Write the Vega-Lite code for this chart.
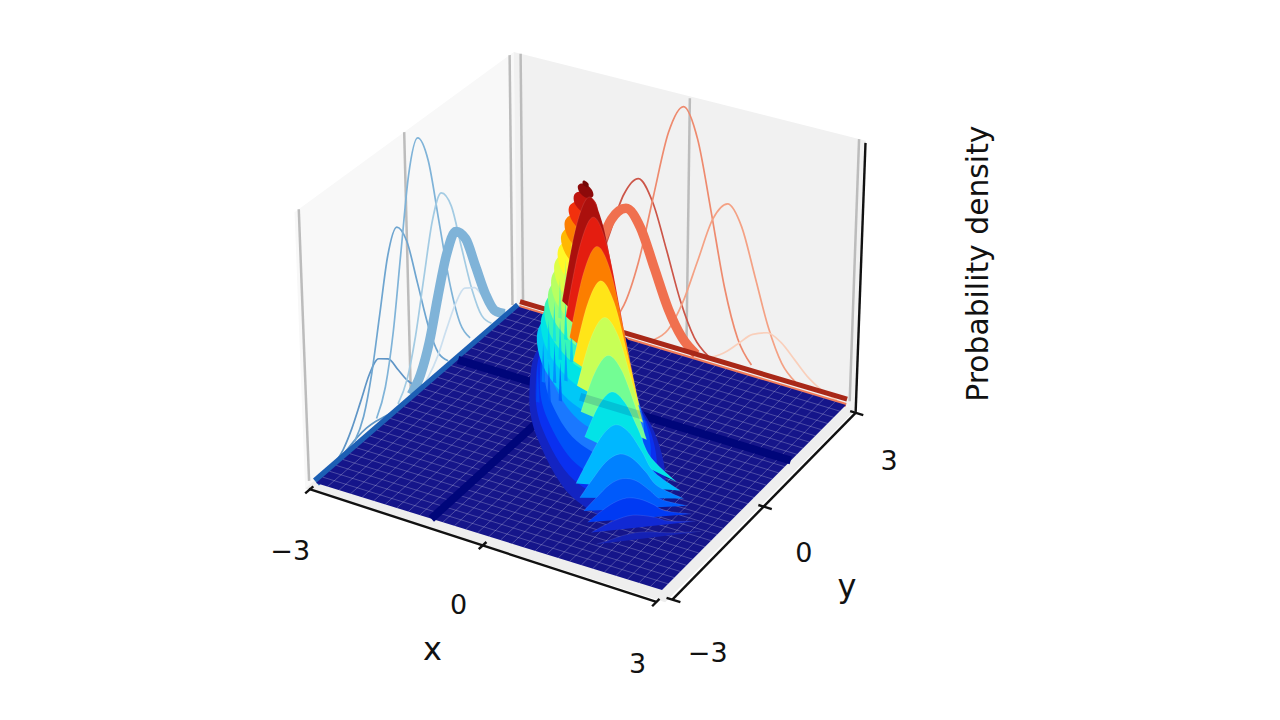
{"$schema":"https://vega.github.io/schema/vega-lite/v6.json","width":1280,"height":720,"autosize":{"type":"fit","contains":"padding"},"padding":0,"background":"white","view":{"stroke":null},"config":{"font":"DejaVu Sans"},
"data":{"values":[
{"k":"w1","i":0,"x":-3.12,"y":-3.12,"z":-0.004},{"k":"w1","i":1,"x":-3.12,"y":-3.12,"z":0.272},{"k":"w1","i":2,"x":-3.12,"y":3.12,"z":0.272},{"k":"w1","i":3,"x":-3.12,"y":3.12,"z":-0.004},
{"k":"w2","i":0,"x":-3.12,"y":3.12,"z":-0.004},{"k":"w2","i":1,"x":-3.12,"y":3.12,"z":0.272},{"k":"w2","i":2,"x":3.12,"y":3.12,"z":0.268},{"k":"w2","i":3,"x":3.12,"y":3.12,"z":-0.006},
{"k":"p","i":0,"x":-3.12,"y":-3.12,"z":-0.004},{"k":"p","i":1,"x":3.12,"y":-3.12,"z":-0.006},{"k":"p","i":2,"x":3.12,"y":3.12,"z":-0.006},{"k":"p","i":3,"x":-3.12,"y":3.12,"z":-0.004},
{"k":"gl","s":1,"x":-3.12,"y":-3,"z":0},{"k":"gl","s":1,"x":-3.12,"y":-3,"z":0.272},{"k":"gl","s":2,"x":-3.12,"y":0,"z":0},{"k":"gl","s":2,"x":-3.12,"y":0,"z":0.272},{"k":"gl","s":3,"x":-3.12,"y":3,"z":0},{"k":"gl","s":3,"x":-3.12,"y":3,"z":0.272},{"k":"gl","s":4,"x":-3,"y":3.12,"z":0},{"k":"gl","s":4,"x":-3,"y":3.12,"z":0.272},{"k":"gl","s":5,"x":0,"y":3.12,"z":0},{"k":"gl","s":5,"x":0,"y":3.12,"z":0.268},{"k":"gl","s":6,"x":3,"y":3.12,"z":0},{"k":"gl","s":6,"x":3,"y":3.12,"z":0.268},
{"k":"ax","s":1,"x":-3.02,"y":-3.18,"z":-0.001},{"k":"ax","s":1,"x":3,"y":-3.18,"z":-0.006},{"k":"ax","s":2,"x":3.18,"y":-3,"z":-0.006},{"k":"ax","s":2,"x":3.18,"y":3,"z":-0.005},{"k":"ax","s":3,"x":3.18,"y":3,"z":-0.004},{"k":"ax","s":3,"x":3.18,"y":3,"z":0.27},
{"k":"ax","s":4,"x":-3,"y":-3.08,"z":-0.001},{"k":"ax","s":4,"x":-3,"y":-3.32,"z":-0.001},{"k":"ax","s":5,"x":0,"y":-3.08,"z":-0.003},{"k":"ax","s":5,"x":0,"y":-3.32,"z":-0.003},{"k":"ax","s":6,"x":3,"y":-3.08,"z":-0.006},{"k":"ax","s":6,"x":3,"y":-3.32,"z":-0.006},{"k":"ax","s":7,"x":3.08,"y":-3,"z":-0.006},{"k":"ax","s":7,"x":3.32,"y":-3,"z":-0.006},{"k":"ax","s":8,"x":3.08,"y":0,"z":-0.006},{"k":"ax","s":8,"x":3.32,"y":0,"z":-0.006},{"k":"ax","s":9,"x":3.08,"y":3,"z":-0.005},{"k":"ax","s":9,"x":3.32,"y":3,"z":-0.005},
{"k":"l","s":"b1","x":-3,"y":-2.6,"z":0.0015},{"k":"l","s":"b1","x":-3,"y":-2.05,"z":0.0067},{"k":"l","s":"b1","x":-3,"y":-1.78,"z":0.0097},{"k":"l","s":"b1","x":-3,"y":-1.5,"z":0.011},{"k":"l","s":"b1","x":-3,"y":-1.22,"z":0.0097},{"k":"l","s":"b1","x":-3,"y":-0.95,"z":0.0067},{"k":"l","s":"b1","x":-3,"y":-0.4,"z":0.0015},
{"k":"l","s":"b2","x":-3,"y":-2.47,"z":0.003},{"k":"l","s":"b2","x":-3,"y":-2.19,"z":0.0095},{"k":"l","s":"b2","x":-3,"y":-1.92,"z":0.023},{"k":"l","s":"b2","x":-3,"y":-1.64,"z":0.0425},{"k":"l","s":"b2","x":-3,"y":-1.37,"z":0.062},{"k":"l","s":"b2","x":-3,"y":-1.09,"z":0.07},{"k":"l","s":"b2","x":-3,"y":-0.82,"z":0.062},{"k":"l","s":"b2","x":-3,"y":-0.54,"z":0.0425},{"k":"l","s":"b2","x":-3,"y":-0.27,"z":0.023},{"k":"l","s":"b2","x":-3,"y":0.01,"z":0.0095},{"k":"l","s":"b2","x":-3,"y":0.29,"z":0.003},
{"k":"l","s":"b3","x":-3,"y":-1.85,"z":0.008},{"k":"l","s":"b3","x":-3,"y":-1.57,"z":0.025},{"k":"l","s":"b3","x":-3,"y":-1.3,"z":0.061},{"k":"l","s":"b3","x":-3,"y":-1.02,"z":0.114},{"k":"l","s":"b3","x":-3,"y":-0.75,"z":0.166},{"k":"l","s":"b3","x":-3,"y":-0.47,"z":0.188},{"k":"l","s":"b3","x":-3,"y":-0.2,"z":0.166},{"k":"l","s":"b3","x":-3,"y":0.08,"z":0.114},{"k":"l","s":"b3","x":-3,"y":0.36,"z":0.061},{"k":"l","s":"b3","x":-3,"y":0.63,"z":0.025},{"k":"l","s":"b3","x":-3,"y":0.91,"z":0.008},
{"k":"l","s":"b4","x":-3,"y":-1.2,"z":0.012},{"k":"l","s":"b4","x":-3,"y":-0.92,"z":0.036},{"k":"l","s":"b4","x":-3,"y":-0.65,"z":0.085},{"k":"l","s":"b4","x":-3,"y":-0.37,"z":0.16},{"k":"l","s":"b4","x":-3,"y":-0.1,"z":0.232},{"k":"l","s":"b4","x":-3,"y":0.18,"z":0.263},{"k":"l","s":"b4","x":-3,"y":0.46,"z":0.232},{"k":"l","s":"b4","x":-3,"y":0.73,"z":0.16},{"k":"l","s":"b4","x":-3,"y":1.01,"z":0.085},{"k":"l","s":"b4","x":-3,"y":1.28,"z":0.036},{"k":"l","s":"b4","x":-3,"y":1.56,"z":0.012},
{"k":"l","s":"b5","x":-3,"y":-0.57,"z":0.008},{"k":"l","s":"b5","x":-3,"y":-0.29,"z":0.025},{"k":"l","s":"b5","x":-3,"y":-0.02,"z":0.061},{"k":"l","s":"b5","x":-3,"y":0.26,"z":0.114},{"k":"l","s":"b5","x":-3,"y":0.54,"z":0.166},{"k":"l","s":"b5","x":-3,"y":0.81,"z":0.188},{"k":"l","s":"b5","x":-3,"y":1.09,"z":0.166},{"k":"l","s":"b5","x":-3,"y":1.36,"z":0.114},{"k":"l","s":"b5","x":-3,"y":1.64,"z":0.061},{"k":"l","s":"b5","x":-3,"y":1.91,"z":0.025},{"k":"l","s":"b5","x":-3,"y":2.19,"z":0.008},
{"k":"l","s":"b7","x":-3,"y":0.06,"z":0.003},{"k":"l","s":"b7","x":-3,"y":0.33,"z":0.009},{"k":"l","s":"b7","x":-3,"y":0.61,"z":0.022},{"k":"l","s":"b7","x":-3,"y":0.88,"z":0.042},{"k":"l","s":"b7","x":-3,"y":1.16,"z":0.061},{"k":"l","s":"b7","x":-3,"y":1.43,"z":0.069},{"k":"l","s":"b7","x":-3,"y":1.71,"z":0.061},{"k":"l","s":"b7","x":-3,"y":1.98,"z":0.042},{"k":"l","s":"b7","x":-3,"y":2.26,"z":0.022},{"k":"l","s":"b7","x":-3,"y":2.53,"z":0.009},{"k":"l","s":"b7","x":-3,"y":2.81,"z":0.003},
{"k":"l","s":"r1","x":-2.13,"y":3,"z":0.008},{"k":"l","s":"r1","x":-1.87,"y":3,"z":0.023},{"k":"l","s":"r1","x":-1.61,"y":3,"z":0.057},{"k":"l","s":"r1","x":-1.35,"y":3,"z":0.106},{"k":"l","s":"r1","x":-1.09,"y":3,"z":0.153},{"k":"l","s":"r1","x":-0.83,"y":3,"z":0.174},{"k":"l","s":"r1","x":-0.57,"y":3,"z":0.153},{"k":"l","s":"r1","x":-0.31,"y":3,"z":0.106},{"k":"l","s":"r1","x":-0.05,"y":3,"z":0.057},{"k":"l","s":"r1","x":0.21,"y":3,"z":0.023},{"k":"l","s":"r1","x":0.47,"y":3,"z":0.008},
{"k":"l","s":"r3","x":-1.34,"y":3,"z":0.012},{"k":"l","s":"r3","x":-1.08,"y":3,"z":0.035},{"k":"l","s":"r3","x":-0.82,"y":3,"z":0.085},{"k":"l","s":"r3","x":-0.56,"y":3,"z":0.159},{"k":"l","s":"r3","x":-0.3,"y":3,"z":0.231},{"k":"l","s":"r3","x":-0.04,"y":3,"z":0.262},{"k":"l","s":"r3","x":0.22,"y":3,"z":0.231},{"k":"l","s":"r3","x":0.48,"y":3,"z":0.159},{"k":"l","s":"r3","x":0.74,"y":3,"z":0.085},{"k":"l","s":"r3","x":1,"y":3,"z":0.035},{"k":"l","s":"r3","x":1.26,"y":3,"z":0.012},
{"k":"l","s":"r4","x":-0.53,"y":3,"z":0.008},{"k":"l","s":"r4","x":-0.27,"y":3,"z":0.023},{"k":"l","s":"r4","x":-0.01,"y":3,"z":0.056},{"k":"l","s":"r4","x":0.25,"y":3,"z":0.104},{"k":"l","s":"r4","x":0.51,"y":3,"z":0.152},{"k":"l","s":"r4","x":0.77,"y":3,"z":0.172},{"k":"l","s":"r4","x":1.03,"y":3,"z":0.152},{"k":"l","s":"r4","x":1.29,"y":3,"z":0.104},{"k":"l","s":"r4","x":1.55,"y":3,"z":0.056},{"k":"l","s":"r4","x":1.81,"y":3,"z":0.023},{"k":"l","s":"r4","x":2.07,"y":3,"z":0.008},
{"k":"l","s":"r5","x":0.23,"y":3,"z":0.002},{"k":"l","s":"r5","x":0.49,"y":3,"z":0.007},{"k":"l","s":"r5","x":0.75,"y":3,"z":0.016},{"k":"l","s":"r5","x":1.01,"y":3,"z":0.03},{"k":"l","s":"r5","x":1.27,"y":3,"z":0.044},{"k":"l","s":"r5","x":1.53,"y":3,"z":0.05},{"k":"l","s":"r5","x":1.79,"y":3,"z":0.044},{"k":"l","s":"r5","x":2.05,"y":3,"z":0.03},{"k":"l","s":"r5","x":2.31,"y":3,"z":0.016},{"k":"l","s":"r5","x":2.57,"y":3,"z":0.007},{"k":"l","s":"r5","x":2.83,"y":3,"z":0.002},
{"k":"h","s":"b6","x":-3,"y":-0.18,"z":0.006},{"k":"h","s":"b6","x":-3,"y":0.1,"z":0.018},{"k":"h","s":"b6","x":-3,"y":0.38,"z":0.044},{"k":"h","s":"b6","x":-3,"y":0.65,"z":0.083},{"k":"h","s":"b6","x":-3,"y":0.93,"z":0.12},{"k":"h","s":"b6","x":-3,"y":1.2,"z":0.136},{"k":"h","s":"b6","x":-3,"y":1.48,"z":0.12},{"k":"h","s":"b6","x":-3,"y":1.75,"z":0.083},{"k":"h","s":"b6","x":-3,"y":2.03,"z":0.044},{"k":"h","s":"b6","x":-3,"y":2.3,"z":0.018},{"k":"h","s":"b6","x":-3,"y":2.58,"z":0.006},
{"k":"h","s":"r2","x":-2.35,"y":3,"z":0.006},{"k":"h","s":"r2","x":-2.09,"y":3,"z":0.019},{"k":"h","s":"r2","x":-1.83,"y":3,"z":0.045},{"k":"h","s":"r2","x":-1.57,"y":3,"z":0.084},{"k":"h","s":"r2","x":-1.31,"y":3,"z":0.123},{"k":"h","s":"r2","x":-1.05,"y":3,"z":0.139},{"k":"h","s":"r2","x":-0.79,"y":3,"z":0.123},{"k":"h","s":"r2","x":-0.53,"y":3,"z":0.084},{"k":"h","s":"r2","x":-0.27,"y":3,"z":0.045},{"k":"h","s":"r2","x":-0.01,"y":3,"z":0.019},{"k":"h","s":"r2","x":0.25,"y":3,"z":0.006},
{"k":"eb","x":-3,"y":-3,"z":0.001},{"k":"eb","x":-3,"y":3,"z":0.001},
{"k":"er","x":-3,"y":3.03,"z":0.005},{"k":"er","x":3,"y":3.03,"z":0.005},
{"k":"es","x":-3,"y":3,"z":0},{"k":"es","x":3,"y":3,"z":0},
{"k":"f","i":0,"x":-3,"y":-3},{"k":"f","i":1,"x":3,"y":-3},{"k":"f","i":2,"x":3,"y":3},{"k":"f","i":3,"x":-3,"y":3},
{"k":"g","s":1,"x":-2.8,"y":-3},{"k":"g","s":1,"x":-2.8,"y":3},{"k":"g","s":2,"x":-2.6,"y":-3},{"k":"g","s":2,"x":-2.6,"y":3},{"k":"g","s":3,"x":-2.4,"y":-3},{"k":"g","s":3,"x":-2.4,"y":3},{"k":"g","s":4,"x":-2.2,"y":-3},{"k":"g","s":4,"x":-2.2,"y":3},{"k":"g","s":5,"x":-2,"y":-3},{"k":"g","s":5,"x":-2,"y":3},{"k":"g","s":6,"x":-1.8,"y":-3},{"k":"g","s":6,"x":-1.8,"y":3},{"k":"g","s":7,"x":-1.6,"y":-3},{"k":"g","s":7,"x":-1.6,"y":3},{"k":"g","s":8,"x":-1.4,"y":-3},{"k":"g","s":8,"x":-1.4,"y":3},{"k":"g","s":9,"x":-1.2,"y":-3},{"k":"g","s":9,"x":-1.2,"y":3},{"k":"g","s":10,"x":-1,"y":-3},{"k":"g","s":10,"x":-1,"y":3},{"k":"g","s":11,"x":-0.8,"y":-3},{"k":"g","s":11,"x":-0.8,"y":3},{"k":"g","s":12,"x":-0.6,"y":-3},{"k":"g","s":12,"x":-0.6,"y":3},{"k":"g","s":13,"x":-0.4,"y":-3},{"k":"g","s":13,"x":-0.4,"y":3},{"k":"g","s":14,"x":-0.2,"y":-3},{"k":"g","s":14,"x":-0.2,"y":3},{"k":"g","s":15,"x":0,"y":-3},{"k":"g","s":15,"x":0,"y":3},{"k":"g","s":16,"x":0.2,"y":-3},{"k":"g","s":16,"x":0.2,"y":3},{"k":"g","s":17,"x":0.4,"y":-3},{"k":"g","s":17,"x":0.4,"y":3},{"k":"g","s":18,"x":0.6,"y":-3},{"k":"g","s":18,"x":0.6,"y":3},{"k":"g","s":19,"x":0.8,"y":-3},{"k":"g","s":19,"x":0.8,"y":3},{"k":"g","s":20,"x":1,"y":-3},{"k":"g","s":20,"x":1,"y":3},{"k":"g","s":21,"x":1.2,"y":-3},{"k":"g","s":21,"x":1.2,"y":3},{"k":"g","s":22,"x":1.4,"y":-3},{"k":"g","s":22,"x":1.4,"y":3},{"k":"g","s":23,"x":1.6,"y":-3},{"k":"g","s":23,"x":1.6,"y":3},{"k":"g","s":24,"x":1.8,"y":-3},{"k":"g","s":24,"x":1.8,"y":3},{"k":"g","s":25,"x":2,"y":-3},{"k":"g","s":25,"x":2,"y":3},{"k":"g","s":26,"x":2.2,"y":-3},{"k":"g","s":26,"x":2.2,"y":3},{"k":"g","s":27,"x":2.4,"y":-3},{"k":"g","s":27,"x":2.4,"y":3},{"k":"g","s":28,"x":2.6,"y":-3},{"k":"g","s":28,"x":2.6,"y":3},{"k":"g","s":29,"x":2.8,"y":-3},{"k":"g","s":29,"x":2.8,"y":3},
{"k":"g","s":31,"y":-2.8,"x":-3},{"k":"g","s":31,"y":-2.8,"x":3},{"k":"g","s":32,"y":-2.6,"x":-3},{"k":"g","s":32,"y":-2.6,"x":3},{"k":"g","s":33,"y":-2.4,"x":-3},{"k":"g","s":33,"y":-2.4,"x":3},{"k":"g","s":34,"y":-2.2,"x":-3},{"k":"g","s":34,"y":-2.2,"x":3},{"k":"g","s":35,"y":-2,"x":-3},{"k":"g","s":35,"y":-2,"x":3},{"k":"g","s":36,"y":-1.8,"x":-3},{"k":"g","s":36,"y":-1.8,"x":3},{"k":"g","s":37,"y":-1.6,"x":-3},{"k":"g","s":37,"y":-1.6,"x":3},{"k":"g","s":38,"y":-1.4,"x":-3},{"k":"g","s":38,"y":-1.4,"x":3},{"k":"g","s":39,"y":-1.2,"x":-3},{"k":"g","s":39,"y":-1.2,"x":3},{"k":"g","s":40,"y":-1,"x":-3},{"k":"g","s":40,"y":-1,"x":3},{"k":"g","s":41,"y":-0.8,"x":-3},{"k":"g","s":41,"y":-0.8,"x":3},{"k":"g","s":42,"y":-0.6,"x":-3},{"k":"g","s":42,"y":-0.6,"x":3},{"k":"g","s":43,"y":-0.4,"x":-3},{"k":"g","s":43,"y":-0.4,"x":3},{"k":"g","s":44,"y":-0.2,"x":-3},{"k":"g","s":44,"y":-0.2,"x":3},{"k":"g","s":45,"y":0,"x":-3},{"k":"g","s":45,"y":0,"x":3},{"k":"g","s":46,"y":0.2,"x":-3},{"k":"g","s":46,"y":0.2,"x":3},{"k":"g","s":47,"y":0.4,"x":-3},{"k":"g","s":47,"y":0.4,"x":3},{"k":"g","s":48,"y":0.6,"x":-3},{"k":"g","s":48,"y":0.6,"x":3},{"k":"g","s":49,"y":0.8,"x":-3},{"k":"g","s":49,"y":0.8,"x":3},{"k":"g","s":50,"y":1,"x":-3},{"k":"g","s":50,"y":1,"x":3},{"k":"g","s":51,"y":1.2,"x":-3},{"k":"g","s":51,"y":1.2,"x":3},{"k":"g","s":52,"y":1.4,"x":-3},{"k":"g","s":52,"y":1.4,"x":3},{"k":"g","s":53,"y":1.6,"x":-3},{"k":"g","s":53,"y":1.6,"x":3},{"k":"g","s":54,"y":1.8,"x":-3},{"k":"g","s":54,"y":1.8,"x":3},{"k":"g","s":55,"y":2,"x":-3},{"k":"g","s":55,"y":2,"x":3},{"k":"g","s":56,"y":2.2,"x":-3},{"k":"g","s":56,"y":2.2,"x":3},{"k":"g","s":57,"y":2.4,"x":-3},{"k":"g","s":57,"y":2.4,"x":3},{"k":"g","s":58,"y":2.6,"x":-3},{"k":"g","s":58,"y":2.6,"x":3},{"k":"g","s":59,"y":2.8,"x":-3},{"k":"g","s":59,"y":2.8,"x":3},
{"k":"d","s":1,"x":-1,"y":-3},{"k":"d","s":1,"x":-1,"y":3},{"k":"d","s":2,"x":-3,"y":1.2},{"k":"d","s":2,"x":3,"y":1.2},
{"k":"o","s":1,"x":-0.8,"y":1.2},{"k":"o","s":1,"x":0.6,"y":1.2},
{"k":"c","i":0,"z":0.012,"x":1.9,"y":-1.9},{"k":"c","i":1,"z":0.012,"x":1.87,"y":-0.82},{"k":"c","i":2,"z":0.012,"x":0.74,"y":0.74},{"k":"c","i":3,"z":0.012,"x":-0.82,"y":1.87},{"k":"c","i":4,"z":0.012,"x":-1.9,"y":1.9},{"k":"c","i":5,"z":0.012,"x":-1.35,"y":0.59},{"k":"c","i":6,"z":0.012,"x":-0.53,"y":-0.53},{"k":"c","i":7,"z":0.012,"x":0.75,"y":-1.7},
{"k":"c","i":0,"z":0.022,"x":1.7,"y":-1.7},{"k":"c","i":1,"z":0.022,"x":1.67,"y":-0.74},{"k":"c","i":2,"z":0.022,"x":0.66,"y":0.66},{"k":"c","i":3,"z":0.022,"x":-0.74,"y":1.67},{"k":"c","i":4,"z":0.022,"x":-1.7,"y":1.7},{"k":"c","i":5,"z":0.022,"x":-1.2,"y":0.53},{"k":"c","i":6,"z":0.022,"x":-0.48,"y":-0.48},{"k":"c","i":7,"z":0.022,"x":0.65,"y":-1.5},
{"k":"c","i":0,"z":0.033,"x":1.56,"y":-1.56},{"k":"c","i":1,"z":0.033,"x":1.53,"y":-0.68},{"k":"c","i":2,"z":0.033,"x":0.6,"y":0.6},{"k":"c","i":3,"z":0.033,"x":-0.68,"y":1.53},{"k":"c","i":4,"z":0.033,"x":-1.56,"y":1.56},{"k":"c","i":5,"z":0.033,"x":-1.1,"y":0.49},{"k":"c","i":6,"z":0.033,"x":-0.43,"y":-0.43},{"k":"c","i":7,"z":0.033,"x":0.6,"y":-1.35},
{"k":"c","i":0,"z":0.05,"x":1.39,"y":-1.39},{"k":"c","i":1,"z":0.05,"x":1.36,"y":-0.6},{"k":"c","i":2,"z":0.05,"x":0.54,"y":0.54},{"k":"c","i":3,"z":0.05,"x":-0.6,"y":1.36},{"k":"c","i":4,"z":0.05,"x":-1.39,"y":1.39},{"k":"c","i":5,"z":0.05,"x":-0.98,"y":0.43},{"k":"c","i":6,"z":0.05,"x":-0.39,"y":-0.39},{"k":"c","i":7,"z":0.05,"x":0.52,"y":-1.2},
{"k":"c","i":0,"z":0.066,"x":1.27,"y":-1.27},{"k":"c","i":1,"z":0.066,"x":1.24,"y":-0.55},{"k":"c","i":2,"z":0.066,"x":0.49,"y":0.49},{"k":"c","i":3,"z":0.066,"x":-0.55,"y":1.24},{"k":"c","i":4,"z":0.066,"x":-1.27,"y":1.27},{"k":"c","i":5,"z":0.066,"x":-0.89,"y":0.4},{"k":"c","i":6,"z":0.066,"x":-0.35,"y":-0.35},{"k":"c","i":7,"z":0.066,"x":0.46,"y":-1.05},
{"k":"c","i":0,"z":0.082,"x":1.17,"y":-1.17},{"k":"c","i":1,"z":0.082,"x":1.15,"y":-0.51},{"k":"c","i":2,"z":0.082,"x":0.45,"y":0.45},{"k":"c","i":3,"z":0.082,"x":-0.51,"y":1.15},{"k":"c","i":4,"z":0.082,"x":-1.17,"y":1.17},{"k":"c","i":5,"z":0.082,"x":-1.15,"y":0.51},{"k":"c","i":6,"z":0.082,"x":-0.45,"y":-0.45},{"k":"c","i":7,"z":0.082,"x":0.51,"y":-1.15},
{"k":"c","i":0,"z":0.099,"x":1.07,"y":-1.07},{"k":"c","i":1,"z":0.099,"x":1.05,"y":-0.46},{"k":"c","i":2,"z":0.099,"x":0.41,"y":0.41},{"k":"c","i":3,"z":0.099,"x":-0.46,"y":1.05},{"k":"c","i":4,"z":0.099,"x":-1.07,"y":1.07},{"k":"c","i":5,"z":0.099,"x":-1.05,"y":0.46},{"k":"c","i":6,"z":0.099,"x":-0.41,"y":-0.41},{"k":"c","i":7,"z":0.099,"x":0.46,"y":-1.05},
{"k":"c","i":0,"z":0.115,"x":0.99,"y":-0.99},{"k":"c","i":1,"z":0.115,"x":0.97,"y":-0.43},{"k":"c","i":2,"z":0.115,"x":0.38,"y":0.38},{"k":"c","i":3,"z":0.115,"x":-0.43,"y":0.97},{"k":"c","i":4,"z":0.115,"x":-0.99,"y":0.99},{"k":"c","i":5,"z":0.115,"x":-0.97,"y":0.43},{"k":"c","i":6,"z":0.115,"x":-0.38,"y":-0.38},{"k":"c","i":7,"z":0.115,"x":0.43,"y":-0.97},
{"k":"c","i":0,"z":0.131,"x":0.9,"y":-0.9},{"k":"c","i":1,"z":0.131,"x":0.88,"y":-0.39},{"k":"c","i":2,"z":0.131,"x":0.35,"y":0.35},{"k":"c","i":3,"z":0.131,"x":-0.39,"y":0.88},{"k":"c","i":4,"z":0.131,"x":-0.9,"y":0.9},{"k":"c","i":5,"z":0.131,"x":-0.88,"y":0.39},{"k":"c","i":6,"z":0.131,"x":-0.35,"y":-0.35},{"k":"c","i":7,"z":0.131,"x":0.39,"y":-0.88},
{"k":"c","i":0,"z":0.148,"x":0.82,"y":-0.82},{"k":"c","i":1,"z":0.148,"x":0.8,"y":-0.35},{"k":"c","i":2,"z":0.148,"x":0.32,"y":0.32},{"k":"c","i":3,"z":0.148,"x":-0.35,"y":0.8},{"k":"c","i":4,"z":0.148,"x":-0.82,"y":0.82},{"k":"c","i":5,"z":0.148,"x":-0.8,"y":0.35},{"k":"c","i":6,"z":0.148,"x":-0.32,"y":-0.32},{"k":"c","i":7,"z":0.148,"x":0.35,"y":-0.8},
{"k":"c","i":0,"z":0.164,"x":0.74,"y":-0.74},{"k":"c","i":1,"z":0.164,"x":0.73,"y":-0.32},{"k":"c","i":2,"z":0.164,"x":0.29,"y":0.29},{"k":"c","i":3,"z":0.164,"x":-0.32,"y":0.73},{"k":"c","i":4,"z":0.164,"x":-0.74,"y":0.74},{"k":"c","i":5,"z":0.164,"x":-0.73,"y":0.32},{"k":"c","i":6,"z":0.164,"x":-0.29,"y":-0.29},{"k":"c","i":7,"z":0.164,"x":0.32,"y":-0.73},
{"k":"c","i":0,"z":0.18,"x":0.66,"y":-0.66},{"k":"c","i":1,"z":0.18,"x":0.65,"y":-0.29},{"k":"c","i":2,"z":0.18,"x":0.26,"y":0.26},{"k":"c","i":3,"z":0.18,"x":-0.29,"y":0.65},{"k":"c","i":4,"z":0.18,"x":-0.66,"y":0.66},{"k":"c","i":5,"z":0.18,"x":-0.65,"y":0.29},{"k":"c","i":6,"z":0.18,"x":-0.26,"y":-0.26},{"k":"c","i":7,"z":0.18,"x":0.29,"y":-0.65},
{"k":"c","i":0,"z":0.197,"x":0.58,"y":-0.58},{"k":"c","i":1,"z":0.197,"x":0.57,"y":-0.25},{"k":"c","i":2,"z":0.197,"x":0.22,"y":0.22},{"k":"c","i":3,"z":0.197,"x":-0.25,"y":0.57},{"k":"c","i":4,"z":0.197,"x":-0.58,"y":0.58},{"k":"c","i":5,"z":0.197,"x":-0.57,"y":0.25},{"k":"c","i":6,"z":0.197,"x":-0.22,"y":-0.22},{"k":"c","i":7,"z":0.197,"x":0.25,"y":-0.57},
{"k":"c","i":0,"z":0.213,"x":0.5,"y":-0.5},{"k":"c","i":1,"z":0.213,"x":0.49,"y":-0.22},{"k":"c","i":2,"z":0.213,"x":0.19,"y":0.19},{"k":"c","i":3,"z":0.213,"x":-0.22,"y":0.49},{"k":"c","i":4,"z":0.213,"x":-0.5,"y":0.5},{"k":"c","i":5,"z":0.213,"x":-0.49,"y":0.22},{"k":"c","i":6,"z":0.213,"x":-0.19,"y":-0.19},{"k":"c","i":7,"z":0.213,"x":0.22,"y":-0.49},
{"k":"c","i":0,"z":0.23,"x":0.4,"y":-0.4},{"k":"c","i":1,"z":0.23,"x":0.39,"y":-0.17},{"k":"c","i":2,"z":0.23,"x":0.15,"y":0.15},{"k":"c","i":3,"z":0.23,"x":-0.17,"y":0.39},{"k":"c","i":4,"z":0.23,"x":-0.4,"y":0.4},{"k":"c","i":5,"z":0.23,"x":-0.39,"y":0.17},{"k":"c","i":6,"z":0.23,"x":-0.15,"y":-0.15},{"k":"c","i":7,"z":0.23,"x":0.17,"y":-0.39},
{"k":"c","i":0,"z":0.245,"x":0.29,"y":-0.29},{"k":"c","i":1,"z":0.245,"x":0.28,"y":-0.13},{"k":"c","i":2,"z":0.245,"x":0.11,"y":0.11},{"k":"c","i":3,"z":0.245,"x":-0.13,"y":0.28},{"k":"c","i":4,"z":0.245,"x":-0.29,"y":0.29},{"k":"c","i":5,"z":0.245,"x":-0.28,"y":0.13},{"k":"c","i":6,"z":0.245,"x":-0.11,"y":-0.11},{"k":"c","i":7,"z":0.245,"x":0.13,"y":-0.28},
{"k":"c","i":0,"z":0.258,"x":0.18,"y":-0.18},{"k":"c","i":1,"z":0.258,"x":0.18,"y":-0.08},{"k":"c","i":2,"z":0.258,"x":0.07,"y":0.07},{"k":"c","i":3,"z":0.258,"x":-0.08,"y":0.18},{"k":"c","i":4,"z":0.258,"x":-0.18,"y":0.18},{"k":"c","i":5,"z":0.258,"x":-0.18,"y":0.08},{"k":"c","i":6,"z":0.258,"x":-0.07,"y":-0.07},{"k":"c","i":7,"z":0.258,"x":0.08,"y":-0.18},
{"k":"c","i":0,"z":0.265,"x":0.08,"y":-0.08},{"k":"c","i":1,"z":0.265,"x":0.07,"y":-0.03},{"k":"c","i":2,"z":0.265,"x":0.03,"y":0.03},{"k":"c","i":3,"z":0.265,"x":-0.03,"y":0.07},{"k":"c","i":4,"z":0.265,"x":-0.08,"y":0.08},{"k":"c","i":5,"z":0.265,"x":-0.07,"y":0.03},{"k":"c","i":6,"z":0.265,"x":-0.03,"y":-0.03},{"k":"c","i":7,"z":0.265,"x":0.03,"y":-0.07},
{"k":"n","n":1,"i":0,"h":0.03,"x":-0.88,"y":0,"z":0.03},{"k":"n","n":1,"i":1,"h":0.03,"x":-0.82,"y":0,"z":0.03},{"k":"n","n":1,"i":2,"h":0.03,"x":-0.85,"y":0,"z":0.07},
{"k":"n","n":2,"i":0,"h":0.052,"x":-0.78,"y":0,"z":0.052},{"k":"n","n":2,"i":1,"h":0.052,"x":-0.72,"y":0,"z":0.052},{"k":"n","n":2,"i":2,"h":0.052,"x":-0.75,"y":0,"z":0.092},
{"k":"n","n":4,"i":0,"h":0.077,"x":-0.68,"y":0,"z":0.077},{"k":"n","n":4,"i":1,"h":0.077,"x":-0.62,"y":0,"z":0.077},{"k":"n","n":4,"i":2,"h":0.077,"x":-0.65,"y":0,"z":0.117},
{"k":"n","n":5,"i":0,"h":0.035,"x":-0.68,"y":0,"z":0.035},{"k":"n","n":5,"i":1,"h":0.035,"x":-0.62,"y":0,"z":0.035},{"k":"n","n":5,"i":2,"h":0.035,"x":-0.65,"y":0,"z":0.075},
{"k":"n","n":6,"i":0,"h":0.097,"x":-0.58,"y":0,"z":0.097},{"k":"n","n":6,"i":1,"h":0.097,"x":-0.52,"y":0,"z":0.097},{"k":"n","n":6,"i":2,"h":0.097,"x":-0.55,"y":0,"z":0.137},
{"k":"n","n":7,"i":0,"h":0.055,"x":-0.58,"y":0,"z":0.055},{"k":"n","n":7,"i":1,"h":0.055,"x":-0.52,"y":0,"z":0.055},{"k":"n","n":7,"i":2,"h":0.055,"x":-0.55,"y":0,"z":0.095},
{"k":"n","n":9,"i":0,"h":0.122,"x":-0.48,"y":0,"z":0.122},{"k":"n","n":9,"i":1,"h":0.122,"x":-0.42,"y":0,"z":0.122},{"k":"n","n":9,"i":2,"h":0.122,"x":-0.45,"y":0,"z":0.162},
{"k":"n","n":10,"i":0,"h":0.08,"x":-0.48,"y":0,"z":0.08},{"k":"n","n":10,"i":1,"h":0.08,"x":-0.42,"y":0,"z":0.08},{"k":"n","n":10,"i":2,"h":0.08,"x":-0.45,"y":0,"z":0.12},
{"k":"n","n":11,"i":0,"h":0.038,"x":-0.48,"y":0,"z":0.038},{"k":"n","n":11,"i":1,"h":0.038,"x":-0.42,"y":0,"z":0.038},{"k":"n","n":11,"i":2,"h":0.038,"x":-0.45,"y":0,"z":0.078},
{"k":"n","n":12,"i":0,"h":0.144,"x":-0.38,"y":0,"z":0.144},{"k":"n","n":12,"i":1,"h":0.144,"x":-0.32,"y":0,"z":0.144},{"k":"n","n":12,"i":2,"h":0.144,"x":-0.35,"y":0,"z":0.184},
{"k":"n","n":13,"i":0,"h":0.102,"x":-0.38,"y":0,"z":0.102},{"k":"n","n":13,"i":1,"h":0.102,"x":-0.32,"y":0,"z":0.102},{"k":"n","n":13,"i":2,"h":0.102,"x":-0.35,"y":0,"z":0.142},
{"k":"n","n":14,"i":0,"h":0.06,"x":-0.38,"y":0,"z":0.06},{"k":"n","n":14,"i":1,"h":0.06,"x":-0.32,"y":0,"z":0.06},{"k":"n","n":14,"i":2,"h":0.06,"x":-0.35,"y":0,"z":0.1},
{"k":"n","n":15,"i":0,"h":0.164,"x":-0.28,"y":0,"z":0.164},{"k":"n","n":15,"i":1,"h":0.164,"x":-0.22,"y":0,"z":0.164},{"k":"n","n":15,"i":2,"h":0.164,"x":-0.25,"y":0,"z":0.204},
{"k":"n","n":16,"i":0,"h":0.123,"x":-0.28,"y":0,"z":0.123},{"k":"n","n":16,"i":1,"h":0.123,"x":-0.22,"y":0,"z":0.123},{"k":"n","n":16,"i":2,"h":0.123,"x":-0.25,"y":0,"z":0.162},
{"k":"n","n":17,"i":0,"h":0.081,"x":-0.28,"y":0,"z":0.081},{"k":"n","n":17,"i":1,"h":0.081,"x":-0.22,"y":0,"z":0.081},{"k":"n","n":17,"i":2,"h":0.081,"x":-0.25,"y":0,"z":0.12},
{"k":"n","n":18,"i":0,"h":0.175,"x":-0.18,"y":0,"z":0.175},{"k":"n","n":18,"i":1,"h":0.175,"x":-0.12,"y":0,"z":0.175},{"k":"n","n":18,"i":2,"h":0.175,"x":-0.15,"y":0,"z":0.215},
{"k":"n","n":19,"i":0,"h":0.133,"x":-0.18,"y":0,"z":0.133},{"k":"n","n":19,"i":1,"h":0.133,"x":-0.12,"y":0,"z":0.133},{"k":"n","n":19,"i":2,"h":0.133,"x":-0.15,"y":0,"z":0.173},
{"k":"n","n":20,"i":0,"h":0.091,"x":-0.18,"y":0,"z":0.091},{"k":"n","n":20,"i":1,"h":0.091,"x":-0.12,"y":0,"z":0.091},{"k":"n","n":20,"i":2,"h":0.091,"x":-0.15,"y":0,"z":0.131},
{"k":"a","i":0,"h":0.25,"x":-0.15,"y":-0.45,"z":0.157},{"k":"a","i":1,"h":0.25,"x":0,"y":-0.3,"z":0.228},{"k":"a","i":2,"h":0.25,"x":0.15,"y":-0.15,"z":0.258},{"k":"a","i":3,"h":0.25,"x":0.3,"y":0,"z":0.228},{"k":"a","i":4,"h":0.25,"x":0.45,"y":0.15,"z":0.157},{"k":"a","i":5,"h":0.25,"x":0.59,"y":0.29,"z":0.084},
{"k":"a","i":0,"h":0.235,"x":0,"y":-0.6,"z":0.148},{"k":"a","i":1,"h":0.235,"x":0.15,"y":-0.45,"z":0.215},{"k":"a","i":2,"h":0.235,"x":0.3,"y":-0.3,"z":0.244},{"k":"a","i":3,"h":0.235,"x":0.45,"y":-0.15,"z":0.215},{"k":"a","i":4,"h":0.235,"x":0.6,"y":0,"z":0.148},{"k":"a","i":5,"h":0.235,"x":0.74,"y":0.14,"z":0.079},
{"k":"a","i":0,"h":0.213,"x":0.15,"y":-0.75,"z":0.134},{"k":"a","i":1,"h":0.213,"x":0.3,"y":-0.6,"z":0.195},{"k":"a","i":2,"h":0.213,"x":0.45,"y":-0.45,"z":0.221},{"k":"a","i":3,"h":0.213,"x":0.6,"y":-0.3,"z":0.195},{"k":"a","i":4,"h":0.213,"x":0.75,"y":-0.15,"z":0.134},{"k":"a","i":5,"h":0.213,"x":0.89,"y":-0.01,"z":0.072},
{"k":"a","i":0,"h":0.185,"x":0.3,"y":-0.9,"z":0.117},{"k":"a","i":1,"h":0.185,"x":0.45,"y":-0.75,"z":0.17},{"k":"a","i":2,"h":0.185,"x":0.6,"y":-0.6,"z":0.193},{"k":"a","i":3,"h":0.185,"x":0.75,"y":-0.45,"z":0.17},{"k":"a","i":4,"h":0.185,"x":0.9,"y":-0.3,"z":0.117},{"k":"a","i":5,"h":0.185,"x":1.04,"y":-0.16,"z":0.063},
{"k":"a","i":0,"h":0.155,"x":0.45,"y":-1.05,"z":0.099},{"k":"a","i":1,"h":0.155,"x":0.6,"y":-0.9,"z":0.144},{"k":"a","i":2,"h":0.155,"x":0.75,"y":-0.75,"z":0.163},{"k":"a","i":3,"h":0.155,"x":0.9,"y":-0.6,"z":0.144},{"k":"a","i":4,"h":0.155,"x":1.05,"y":-0.45,"z":0.099},{"k":"a","i":5,"h":0.155,"x":1.19,"y":-0.31,"z":0.053},
{"k":"a","i":0,"h":0.125,"x":0.6,"y":-1.2,"z":0.08},{"k":"a","i":1,"h":0.125,"x":0.75,"y":-1.05,"z":0.116},{"k":"a","i":2,"h":0.125,"x":0.9,"y":-0.9,"z":0.132},{"k":"a","i":3,"h":0.125,"x":1.05,"y":-0.75,"z":0.116},{"k":"a","i":4,"h":0.125,"x":1.2,"y":-0.6,"z":0.08},{"k":"a","i":5,"h":0.125,"x":1.34,"y":-0.46,"z":0.043},
{"k":"a","i":2,"h":0.098,"x":0.75,"y":-1.35,"z":0.062},{"k":"a","i":3,"h":0.098,"x":0.9,"y":-1.2,"z":0.09},{"k":"a","i":4,"h":0.098,"x":1.05,"y":-1.05,"z":0.1025},{"k":"a","i":5,"h":0.098,"x":1.2,"y":-0.9,"z":0.09},{"k":"a","i":6,"h":0.098,"x":1.35,"y":-0.75,"z":0.062},{"k":"a","i":7,"h":0.098,"x":1.49,"y":-0.61,"z":0.033},{"k":"a","i":8,"h":0.098,"x":1.79,"y":-0.31,"z":0.0045},
{"k":"a","i":1,"h":0.074,"x":0.76,"y":-1.64,"z":0.025},{"k":"a","i":2,"h":0.074,"x":0.9,"y":-1.5,"z":0.047},{"k":"a","i":3,"h":0.074,"x":1.05,"y":-1.35,"z":0.068},{"k":"a","i":4,"h":0.074,"x":1.2,"y":-1.2,"z":0.077},{"k":"a","i":5,"h":0.074,"x":1.35,"y":-1.05,"z":0.068},{"k":"a","i":6,"h":0.074,"x":1.5,"y":-0.9,"z":0.047},{"k":"a","i":7,"h":0.074,"x":1.64,"y":-0.76,"z":0.025},{"k":"a","i":8,"h":0.074,"x":1.94,"y":-0.46,"z":0.003},
{"k":"a","i":1,"h":0.053,"x":0.91,"y":-1.79,"z":0.018},{"k":"a","i":2,"h":0.053,"x":1.05,"y":-1.65,"z":0.034},{"k":"a","i":3,"h":0.053,"x":1.2,"y":-1.5,"z":0.049},{"k":"a","i":4,"h":0.053,"x":1.35,"y":-1.35,"z":0.055},{"k":"a","i":5,"h":0.053,"x":1.5,"y":-1.2,"z":0.049},{"k":"a","i":6,"h":0.053,"x":1.65,"y":-1.05,"z":0.034},{"k":"a","i":7,"h":0.053,"x":1.79,"y":-0.91,"z":0.018},{"k":"a","i":8,"h":0.053,"x":2.09,"y":-0.61,"z":0.002},
{"k":"a","i":1,"h":0.037,"x":1.06,"y":-1.94,"z":0.012},{"k":"a","i":2,"h":0.037,"x":1.2,"y":-1.8,"z":0.023},{"k":"a","i":3,"h":0.037,"x":1.35,"y":-1.65,"z":0.034},{"k":"a","i":4,"h":0.037,"x":1.5,"y":-1.5,"z":0.038},{"k":"a","i":5,"h":0.037,"x":1.65,"y":-1.35,"z":0.034},{"k":"a","i":6,"h":0.037,"x":1.8,"y":-1.2,"z":0.023},{"k":"a","i":7,"h":0.037,"x":1.94,"y":-1.06,"z":0.012},{"k":"a","i":8,"h":0.037,"x":2.24,"y":-0.76,"z":0.002},
{"k":"a","i":1,"h":0.025,"x":1.21,"y":-2.09,"z":0.008},{"k":"a","i":2,"h":0.025,"x":1.35,"y":-1.95,"z":0.016},{"k":"a","i":3,"h":0.025,"x":1.5,"y":-1.8,"z":0.023},{"k":"a","i":4,"h":0.025,"x":1.65,"y":-1.65,"z":0.026},{"k":"a","i":5,"h":0.025,"x":1.8,"y":-1.5,"z":0.023},{"k":"a","i":6,"h":0.025,"x":1.95,"y":-1.35,"z":0.016},{"k":"a","i":7,"h":0.025,"x":2.09,"y":-1.21,"z":0.008},{"k":"a","i":8,"h":0.025,"x":2.39,"y":-0.91,"z":0.001},
{"k":"a","i":1,"h":0.016,"x":1.36,"y":-2.24,"z":0.005},{"k":"a","i":2,"h":0.016,"x":1.5,"y":-2.1,"z":0.01},{"k":"a","i":3,"h":0.016,"x":1.65,"y":-1.95,"z":0.014},{"k":"a","i":4,"h":0.016,"x":1.8,"y":-1.8,"z":0.016},{"k":"a","i":5,"h":0.016,"x":1.95,"y":-1.65,"z":0.014},{"k":"a","i":6,"h":0.016,"x":2.1,"y":-1.5,"z":0.01},{"k":"a","i":7,"h":0.016,"x":2.24,"y":-1.36,"z":0.005},{"k":"a","i":8,"h":0.016,"x":2.54,"y":-1.06,"z":0.001},
{"k":"a","i":1,"h":0.009,"x":1.56,"y":-2.44,"z":0.003},{"k":"a","i":2,"h":0.009,"x":1.7,"y":-2.3,"z":0.005},{"k":"a","i":3,"h":0.009,"x":1.85,"y":-2.15,"z":0.0076},{"k":"a","i":4,"h":0.009,"x":2,"y":-2,"z":0.0086},{"k":"a","i":5,"h":0.009,"x":2.15,"y":-1.85,"z":0.0076},{"k":"a","i":6,"h":0.009,"x":2.3,"y":-1.7,"z":0.005},{"k":"a","i":7,"h":0.009,"x":2.44,"y":-1.56,"z":0.003},{"k":"a","i":8,"h":0.009,"x":2.74,"y":-1.26,"z":0.0004},
{"k":"t","t":"−3","x":-2.32,"y":-4.94},{"k":"t","t":"0","x":0.56,"y":-4.96},{"k":"t","t":"3","x":3.65,"y":-5.04},{"k":"t","t":"−3","x":4.43,"y":-4.23},{"k":"t","t":"0","x":4.44,"y":-1.03},{"k":"t","t":"3","x":4.39,"y":1.91},
{"k":"tl","t":"x","x":0.82,"y":-6.26},{"k":"tl","t":"y","x":5.45,"y":-1.51},
{"k":"tz","t":"Probability density","x":2.89,"y":7.53}
]},
"transform":[
{"calculate":"(datum.x+3)/6","as":"u"},
{"calculate":"(datum.y+3)/6","as":"v"},
{"calculate":"datum.z||0","as":"d"},
{"calculate":"316+346*datum.u+203*datum.v-19*datum.u*datum.v","as":"f"},
{"calculate":"datum.f+datum.d*0.135*(datum.f-590)","as":"sx"},
{"calculate":"483+107*datum.u-176*datum.v-9*datum.u*datum.v-1000*datum.d*(1+0.06*datum.u-0.08*datum.v)","as":"sy"}
],
"encoding":{
"x":{"field":"sx","type":"quantitative","scale":{"domain":[0,1280],"nice":false,"zero":false},"axis":null},
"y":{"field":"sy","type":"quantitative","scale":{"domain":[720,0],"nice":false,"zero":false},"axis":null}
},
"layer":[
{"transform":[{"filter":"datum.k=='w1'"}],"mark":{"type":"line","filled":true,"color":"#f8f8f8","strokeWidth":0},"encoding":{"order":{"field":"i"}}},
{"transform":[{"filter":"datum.k=='w2'"}],"mark":{"type":"line","filled":true,"color":"#f1f1f1","strokeWidth":0},"encoding":{"order":{"field":"i"}}},
{"transform":[{"filter":"datum.k=='p'"}],"mark":{"type":"line","filled":true,"color":"#eeeeee","strokeWidth":0},"encoding":{"order":{"field":"i"}}},
{"transform":[{"filter":"datum.k=='gl'"}],"mark":{"type":"line","color":"#bcbcbc","strokeWidth":2.5},"encoding":{"detail":{"field":"s"}}},
{"transform":[{"filter":"datum.k=='ax'"}],"mark":{"type":"line","color":"#111111","strokeWidth":2.4},"encoding":{"detail":{"field":"s"},"order":{"field":"z"}}},
{"transform":[{"filter":"datum.k=='l'"}],"mark":{"type":"line","strokeWidth":1.7,"interpolate":"monotone"},"encoding":{"stroke":{"field":"s","type":"nominal","legend":null,"scale":{"domain":["b1","b2","b3","b4","b5","b6","b7","r1","r2","r3","r4","r5"],"range":["#5f95c6","#5f95c6","#6ea5d0","#7fb3d8","#a3cbe3","#7fb3d8","#cbdfef","#cc5548","#f0704f","#ee8a6e","#f4a184","#f9cfbb"]}}}},
{"transform":[{"filter":"datum.k=='h'"}],"mark":{"type":"line","strokeWidth":9.5,"interpolate":"monotone"},"encoding":{"stroke":{"field":"s","type":"nominal","legend":null}}},
{"transform":[{"filter":"datum.k=='er'"}],"mark":{"type":"line","color":"#a82818","strokeWidth":5},"encoding":{}},
{"transform":[{"filter":"datum.k=='es'"}],"mark":{"type":"line","color":"#f07a5a","strokeWidth":4},"encoding":{}},
{"transform":[{"filter":"datum.k=='eb'"}],"mark":{"type":"line","color":"#1c5fb4","strokeWidth":9},"encoding":{}},
{"transform":[{"filter":"datum.k=='f'"}],"mark":{"type":"line","filled":true,"color":"#15158a","strokeWidth":0},"encoding":{"order":{"field":"i"}}},
{"transform":[{"filter":"datum.k=='g'"}],"mark":{"type":"line","color":"#ffffff","strokeWidth":0.8,"opacity":0.3},"encoding":{"detail":{"field":"s"}}},
{"transform":[{"filter":"datum.k=='d'"}],"mark":{"type":"line","color":"#00067a","strokeWidth":8},"encoding":{"detail":{"field":"s"}}},
{"transform":[{"filter":"datum.k=='c'"}],"mark":{"type":"line","filled":true,"interpolate":"cardinal-closed","strokeWidth":0},"encoding":{"color":{"field":"z","type":"quantitative","legend":null,"scale":{"domain":[0,0.008,0.022,0.05,0.09,0.13,0.178,0.205,0.232,0.262],"range":["#15158a","#1420b0","#0a30f0","#1a78ff","#40d8f0","#90ff80","#ffff30","#ff9a10","#f02010","#7f0808"]}},"detail":{"field":"z"},"order":{"field":"i"}}},
{"transform":[{"filter":"datum.k=='n'"}],"mark":{"type":"line","filled":true,"strokeWidth":0,"opacity":0.85},"encoding":{"color":{"field":"h","type":"quantitative","legend":null},"detail":{"field":"n"},"order":{"field":"i"}}},
{"transform":[{"filter":"datum.k=='a'"}],"mark":{"type":"line","filled":true,"interpolate":"cardinal","stroke":"#ffffff","strokeOpacity":0.18,"strokeWidth":0.6},"encoding":{"color":{"field":"h","type":"quantitative","legend":null},"detail":{"field":"h"},"order":{"field":"i"}}},
{"transform":[{"filter":"datum.k=='o'"}],"mark":{"type":"line","color":"#00067a","strokeWidth":8,"opacity":0.15},"encoding":{"detail":{"field":"s"}}},
{"transform":[{"filter":"datum.k=='t'"}],"mark":{"type":"text","fontSize":27,"align":"center","baseline":"middle","color":"#111111"},"encoding":{"text":{"field":"t"}}},
{"transform":[{"filter":"datum.k=='tl'"}],"mark":{"type":"text","fontSize":32,"align":"center","baseline":"middle","color":"#111111"},"encoding":{"text":{"field":"t"}}},
{"transform":[{"filter":"datum.k=='tz'"}],"mark":{"type":"text","fontSize":29.8,"angle":270,"align":"center","baseline":"middle","color":"#111111"},"encoding":{"text":{"field":"t"}}}
]}
